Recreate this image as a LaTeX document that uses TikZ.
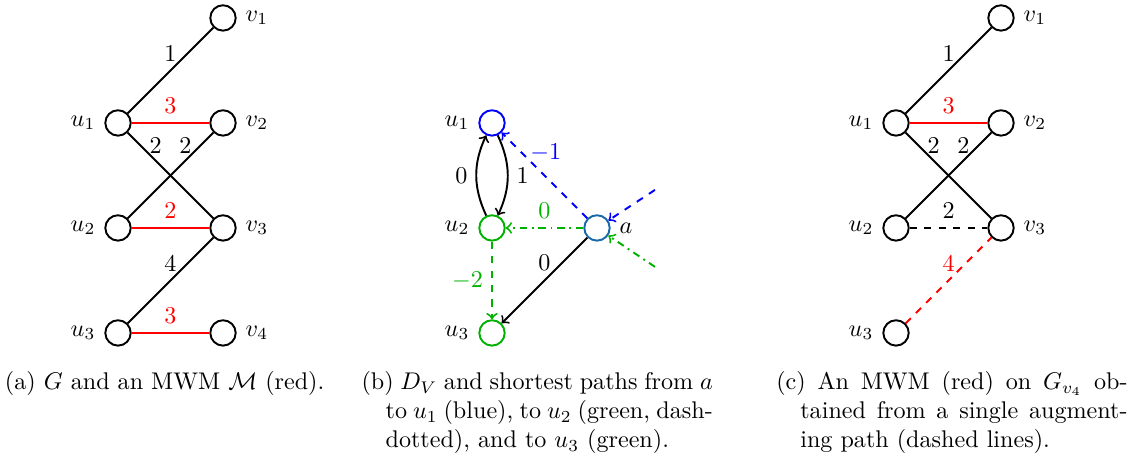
\documentclass[tikz,border=0pt]{standalone}
\usetikzlibrary{positioning}
\definecolor{dkgreen}{rgb}{0,0.7,0}
\definecolor{acolor}{RGB}{25,105,170}
\begin{document}
\begin{tikzpicture}[x=1.53cm,y=1.53cm,thick,vertex/.style={circle,draw,minimum size=3.7mm,inner sep=0},capt/.style={anchor=north west,inner sep=0,text width=5.12cm,align=justify}]
\useasboundingbox(-1.124,-1.171)rectangle(9.610,3.171);
% (a) G and the matching
\foreach \i/\y in {1/2,2/1,3/0}{\node[vertex](au\i)at(0,\y){};\node[left=0pt of au\i](lau\i){$u_\i$};}
\foreach \i/\y in {1/3,2/2,3/1,4/0}{\node[vertex](av\i)at(1,\y){};\node[right=0pt of av\i](lav\i){$v_\i$};}
\draw(au1)--node[above](wa1){1}(av1);
\draw[red](au1)--node[above](wa2){3}(av2);
\draw(au1)--node[pos=0.15,right](wa3){2}(av3);
\draw(au2)--node[pos=0.85,left](wa4){2}(av2);
\draw[red](au2)--node[above](wa5){2}(av3);
\draw(au3)--node[above](wa6){4}(av3);
\draw[red](au3)--node[above](wa7){3}(av4);
% (b) D_V
\node[vertex,draw=blue](bu1)at(3.562,2){};
\node[vertex,draw=dkgreen](bu2)at(3.562,1){};
\node[vertex,draw=dkgreen](bu3)at(3.562,0){};
\node[vertex,draw=acolor](ba)at(4.562,1){};
\foreach \i in {1,2,3}\node[left=0pt of bu\i](lbu\i){$u_\i$};
\node[right=0pt of ba](lba){$a$};
\coordinate(bin1)at(5.114,1.362);
\coordinate(bin2)at(5.114,0.629);
\draw[->](bu2)to[bend left=25]node[left](wb1){0}(bu1);
\draw[->](bu1)to[bend left=25]node[right](wb2){1}(bu2);
\draw[->,blue,dashed](ba)--node[pos=0.77,right](wb3){$-1$}(bu1);
\draw[->,dkgreen,dash dot](ba)--node[above](wb4){0}(bu2);
\draw[->](ba)--node[above](wb5){0}(bu3);
\draw[->,dkgreen,dashed](bu2)--node[left](wb6){$-2$}(bu3);
\draw[->,blue,dashed](bin1)--(ba);
\draw[->,dkgreen,dash dot](bin2)--(ba);
% (c) matching on G_{v_4}
\foreach \i/\y in {1/2,2/1,3/0}{\node[vertex](cu\i)at(7.41,\y){};\node[left=0pt of cu\i](lcu\i){$u_\i$};}
\foreach \i/\y in {1/3,2/2,3/1}{\node[vertex](cv\i)at(8.41,\y){};\node[right=0pt of cv\i](lcv\i){$v_\i$};}
\draw(cu1)--node[above](wc1){1}(cv1);
\draw[red](cu1)--node[above](wc2){3}(cv2);
\draw(cu1)--node[pos=0.15,right](wc3){2}(cv3);
\draw(cu2)--node[pos=0.85,left](wc4){2}(cv2);
\draw[dashed](cu2)--node[above](wc5){2}(cv3);
\draw[red,dashed](cu3)--node[above](wc6){4}(cv3);
% captions
\node[capt](capa)at(-1.086,-0.36){(a) $G$ and an MWM $\mathcal{M}$ (red).};
\node[capt](capb)at(2.31,-0.36){\noindent\hangindent=1em\hangafter=1 (b) $D_V$ and shortest paths from $a$ to $u_1$ (blue), to $u_2$ (green, dash-dotted), and to $u_3$ (green).\par};
\node[capt](capc)at(6.26,-0.36){\noindent\hangindent=1em\hangafter=1 (c) An MWM (red) on $G_{v_4}$ obtained from a single augmenting path (dashed lines).\par};
\end{tikzpicture}
\end{document}
